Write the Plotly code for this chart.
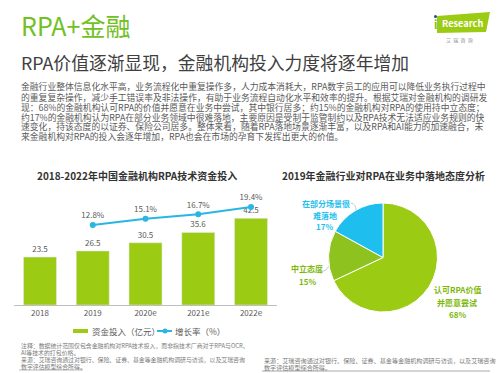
import plotly.graph_objects as go

W, H = 499, 373
FONT = "Noto Sans CJK SC"

# ---- data ----
years = ["2018", "2019", "2020e", "2021e", "2022e"]
invest = [23.5, 26.5, 30.5, 35.6, 42.5]
growth_years = ["2019", "2020e", "2021e", "2022e"]
growth = [12.8, 15.1, 16.7, 19.4]

pie_labels = ["认可RPA价值并愿意尝试", "中立态度", "在部分场景很难落地"]
pie_values = [68, 15, 17]

para_lines = [
    "金融行业整体信息化水平高，业务流程化中重复操作多，人力成本消耗大，RPA数字员工的应用可以降低业务执行过程中",
    "的重复复杂操作，减少手工错误率及非法操作，有助于业务流程自动化水平和效率的提升。根据艾瑞对金融机构的调研发",
    "现：68%的金融机构认可RPA的价值并愿意在业务中尝试，其中银行居多；约15%的金融机构对RPA的使用持中立态度；",
    "约17%的金融机构认为RPA在部分业务领域中很难落地，主要原因是受制于监管制约以及RPA技术无法适应业务规则的快",
    "速变化，持该态度的以证券、保险公司居多。整体来看，随着RPA落地场景逐渐丰富，以及RPA和AI能力的加速融合，未",
    "来金融机构对RPA的投入会逐年增加，RPA也会在市场的孕育下发挥出更大的价值。",
]

GREEN = "#9BCB12"
GREEN2 = "#8DC21F"
BLUE = "#1EBFEE"
LINE = "#2AB6E2"
TXT = "#595959"


def py(y):
    return 1 - y / H


def px(x):
    return x / W


fig = go.Figure()

fig.add_trace(go.Bar(
    x=years, y=invest, marker_color=GREEN, text=[f"{v}" for v in invest],
    textposition="outside", textfont=dict(size=8, color=TXT, family=FONT),
    cliponaxis=False, showlegend=False, xaxis="x", yaxis="y",
))
fig.add_trace(go.Scatter(
    x=growth_years, y=growth, mode="lines+markers+text",
    line=dict(color=LINE, width=2), marker=dict(color=LINE, size=6),
    text=[f"{v}%" for v in growth], textposition="top center",
    textfont=dict(size=8, color=TXT, family=FONT),
    cliponaxis=False, showlegend=False, xaxis="x", yaxis="y2",
))

fig.add_trace(go.Pie(
    labels=pie_labels, values=pie_values, sort=False, direction="clockwise",
    rotation=0, textinfo="none", hoverinfo="label+percent",
    marker=dict(colors=[GREEN, GREEN2, BLUE], line=dict(color="white", width=1)),
    domain=dict(x=[px(328), px(438)], y=[py(312), py(203)]),
    showlegend=False,
))

ann = []


def text(x, y, s, size, color=TXT, xanchor="left", bold=False, yanchor="middle"):
    if bold:
        s = f"<b>{s}</b>"
    ann.append(dict(x=px(x), y=py(y), xref="paper", yref="paper", text=s,
                    showarrow=False, xanchor=xanchor, yanchor=yanchor,
                    font=dict(size=size, color=color, family=FONT)))


# header
text(19, 25, "RPA+金融", 25, color="#72C124")
text(19, 62, "RPA价值逐渐显现，金融机构投入力度将逐年增加", 17.8, color="#404040")
para_y = [87, 97.5, 107.3, 117, 126.7, 136.3]
for s, yy in zip(para_lines, para_y):
    text(19, yy, s, 8.8, color="#5a5a5a")

# chart titles
text(137, 175, "2018-2022年中国金融机构RPA技术资金投入", 10, color="#333333", xanchor="center", bold=True)
text(383, 175, "2019年金融行业对RPA在业务中落地态度分析", 10, color="#333333", xanchor="center", bold=True)

# pie labels
text(326, 203, "在部分场景很", 8, color=BLUE, xanchor="center", bold=True)
text(325, 215, "难落地", 8, color=BLUE, xanchor="center", bold=True)
text(324, 227, "17%", 8, color=BLUE, xanchor="center", bold=True)
text(307, 268, "中立态度", 8, color="#7DB80A", xanchor="center", bold=True)
text(307, 281, "15%", 8, color="#7DB80A", xanchor="center", bold=True)
text(457, 289, "认可RPA价值", 8, color="#7DB80A", xanchor="center", bold=True)
text(457, 302, "并愿意尝试", 8, color="#7DB80A", xanchor="center", bold=True)
text(457, 314, "68%", 8, color="#7DB80A", xanchor="center", bold=True)

# legend
text(90, 331, "资金投入（亿元）", 8.5)
text(173, 331, "增长率（%）", 8.5)

# notes
NOTE = "#7a7a7a"
text(19, 345, "注释：数据统计范围仅包含金融机构对RPA技术投入，而非指技术厂商对于RPA与OCR、", 5.9, color=NOTE)
text(19, 352, "AI等技术的打包价格。", 5.9, color=NOTE)
text(19, 359, "来源：艾瑞咨询通过对银行、保险、证券、基金等金融机构调研与访谈，以及艾瑞咨询", 5.9, color=NOTE)
text(19, 366, "数字评估模型综合所得。", 5.9, color=NOTE)
text(262, 360, "来源：艾瑞咨询通过对银行、保险、证券、基金等金融机构调研与访谈，以及艾瑞咨询", 6.1, color=NOTE)
text(262, 367, "数字评估模型综合所得。", 6.1, color=NOTE)

# logo
text(462, 23, "<b>Research</b>", 9.2, color="white", xanchor="center")
text(435.5, 23.5, "<b>i</b>", 11, color="#7DBE1E", xanchor="center")
text(459, 40, "艾  瑞  咨  询", 5, color="#888888", xanchor="center")

shapes = []


def pshape(path, fill, line_color=None, width=0):
    shapes.append(dict(type="path", xref="paper", yref="paper", path=path,
                       fillcolor=fill, line=dict(color=line_color or fill, width=width),
                       layer="below"))


def pth(points):
    s = "M " + " L ".join(f"{px(x):.5f},{py(y):.5f}" for x, y in points) + " Z"
    return s


pshape(pth([(437, 16), (490, 12), (486, 32), (437, 33)]), "#9CCB14")
shapes.append(dict(type="circle", xref="paper", yref="paper",
                   x0=px(434), x1=px(437), y0=py(18), y1=py(15),
                   fillcolor="#1F4E8C", line=dict(width=0)))

# legend icons
shapes.append(dict(type="rect", xref="paper", yref="paper", x0=px(73), x1=px(88),
                   y0=py(333), y1=py(329), fillcolor=GREEN, line=dict(width=0)))
shapes.append(dict(type="line", xref="paper", yref="paper", x0=px(157), x1=px(172),
                   y0=py(331), y1=py(331), line=dict(color=LINE, width=2)))
shapes.append(dict(type="circle", xref="paper", yref="paper", x0=px(162.5), x1=px(167.5),
                   y0=py(333.5), y1=py(328.5), fillcolor=LINE, line=dict(width=0)))

# pie leader lines
shapes.append(dict(type="path", xref="paper", yref="paper",
                   path=f"M {px(351):.5f},{py(203):.5f} Q {px(356):.5f},{py(204):.5f} {px(356):.5f},{py(210):.5f}",
                   line=dict(color="#bbbbbb", width=0.8)))
shapes.append(dict(type="path", xref="paper", yref="paper",
                   path=f"M {px(321):.5f},{py(272):.5f} Q {px(327):.5f},{py(271):.5f} {px(329):.5f},{py(266):.5f}",
                   line=dict(color="#bbbbbb", width=0.8)))

# bottom rules
shapes.append(dict(type="line", xref="paper", yref="paper", x0=px(19), x1=px(83),
                   y0=py(370), y1=py(370), line=dict(color="#aaaaaa", width=0.8)))
shapes.append(dict(type="line", xref="paper", yref="paper", x0=px(262), x1=px(490),
                   y0=py(371), y1=py(371), line=dict(color="#aaaaaa", width=1)))

fig.update_layout(
    width=W, height=H, margin=dict(l=0, r=0, t=0, b=0),
    paper_bgcolor="white", plot_bgcolor="white",
    bargap=0.375,
    xaxis=dict(domain=[px(13.6), px(277.4)], type="category", range=[-0.5, 4.5],
               showline=True, linecolor="#bfbfbf", linewidth=1, ticks="",
               tickfont=dict(size=8, color=TXT, family=FONT), showgrid=False,
               fixedrange=True),
    yaxis=dict(domain=[py(305), py(190)], range=[0, 56.4], visible=False,
               showgrid=False, fixedrange=True),
    yaxis2=dict(domain=[py(305), py(190)], range=[-16.5, 25.6], overlaying="y",
                visible=False, showgrid=False, fixedrange=True),
    annotations=ann, shapes=shapes,
    font=dict(family=FONT),
)

fig.write_html(
    "out.html",
    config={"displayModeBar": False},
    post_script="document.body.style.margin='0';document.body.style.overflow='hidden';",
)
